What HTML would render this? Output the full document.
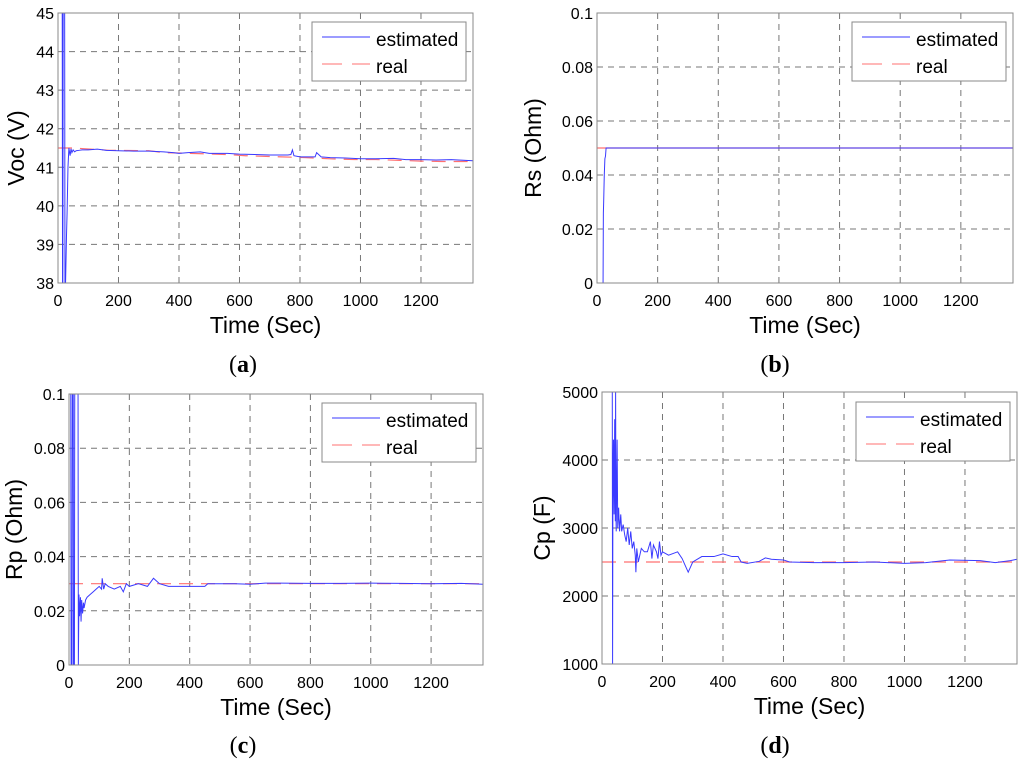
<!DOCTYPE html>
<html><head><meta charset="utf-8">
<style>
body{margin:0;background:#fff;}
svg{display:block;font-family:"Liberation Sans",sans-serif;}
</style></head>
<body>
<svg id="fig" width="1024" height="764" viewBox="0 0 1024 764"></svg>
<script>
// ---- Panel (a) Voc ----
const aEstT=[0,14,15,16,17,18,22,23,24,25,28,30,33,36,40,43,46,50,55,60,70,80,100,130,160,200,250,300,350,380,400,430,470,500,560,600,650,700,760,770,775,780,800,850,855,870,900,950,1000,1050,1110,1150,1200,1250,1300,1372];
const aEstV=[45,45,38,38,45,45,45,38,38,38,39.2,39.8,41.0,41.5,41.3,41.48,41.38,41.45,41.4,41.43,41.44,41.45,41.45,41.47,41.44,41.43,41.42,41.42,41.4,41.38,41.36,41.38,41.4,41.36,41.36,41.34,41.33,41.32,41.32,41.33,41.45,41.3,41.27,41.27,41.38,41.27,41.25,41.24,41.22,41.22,41.23,41.2,41.2,41.19,41.2,41.17];
const aRealT=[0,50,170,300,350,400,480,560,620,700,780,820,900,980,1050,1130,1200,1270,1372];
const aRealV=[41.5,41.5,41.44,41.43,41.38,41.37,41.35,41.33,41.3,41.28,41.26,41.25,41.22,41.2,41.2,41.18,41.16,41.15,41.15];
const aYTicks=[38,39,40,41,42,43,44,45];
// ---- Panel (b) Rs ----
const bEstT=[0,20,21,22,24,26,28,30,35,1372];
const bEstV=[0,0,0.026,0.03,0.04,0.046,0.047,0.05,0.05,0.05];
const bRealT=[0,1372];
const bRealV=[0.05,0.05];
const bYTicks=[0,0.02,0.04,0.06,0.08,0.1];
// ---- Panel (c) Rp ----
const cEstT=[0,6,7,10,11,14,15,18,19,30,31,33,35,38,40,42,45,48,50,55,60,70,80,90,100,108,110,115,120,130,150,170,180,190,200,230,260,280,290,300,330,360,400,450,460,550,600,650,700,800,900,1000,1100,1200,1300,1372];
const cEstV=[0.1,0.1,0,0,0.1,0.1,0,0,0.1,0.1,0,0.026,0.018,0.025,0.016,0.024,0.019,0.023,0.021,0.024,0.025,0.026,0.027,0.028,0.029,0.028,0.032,0.028,0.03,0.029,0.028,0.029,0.027,0.03,0.029,0.03,0.029,0.032,0.031,0.03,0.029,0.029,0.029,0.029,0.03,0.03,0.0298,0.0302,0.0302,0.0301,0.0301,0.0302,0.0301,0.03,0.0301,0.0298];
const cRealT=[0,1372];
const cRealV=[0.03,0.03];
const cYTicks=[0,0.02,0.04,0.06,0.08,0.1];
// ---- Panel (d) Cp ----
const dEstT=[0,34,35,36,38,40,42,44,45,46,47,50,52,55,58,62,65,70,75,80,85,90,95,100,105,110,112,115,120,130,140,150,160,165,170,180,185,190,195,200,220,250,265,275,285,300,330,370,400,430,450,460,480,520,540,560,600,620,700,800,900,1000,1070,1150,1250,1300,1350,1372];
const dEstV=[5000,5000,1000,3400,4300,3200,4600,3100,5000,3300,2950,4300,3000,3300,2950,3200,2950,3050,2900,2800,3000,2750,2950,2700,2800,2600,2350,2700,2500,2700,2650,2650,2800,2550,2750,2650,2550,2800,2600,2650,2600,2650,2550,2450,2350,2500,2580,2580,2620,2580,2580,2500,2480,2510,2560,2540,2530,2500,2490,2490,2500,2480,2490,2530,2520,2490,2520,2540];
const dRealT=[0,1372];
const dRealV=[2500,2500];
const dYTicks=[1000,2000,3000,4000,5000];
const xTicks=[0,200,400,600,800,1000,1200];
const XMAX=1372;

const NS="http://www.w3.org/2000/svg";
const svg=document.getElementById('fig');
function mk(tag,attrs,parent){const e=document.createElementNS(NS,tag);for(const k in attrs)e.setAttribute(k,attrs[k]);(parent||svg).appendChild(e);return e;}

function panel(p){
  const g=mk('g',{});
  
  
  const X=t=>p.l+(t/XMAX)*(p.r-p.l);
  const Y=v=>p.b-(v-p.y0)/(p.y1-p.y0)*(p.b-p.t);
  xTicks.forEach(t=>{ if(t>0){const ln=mk('line',{x1:X(t),x2:X(t),y1:p.t,y2:p.b,stroke:'#777','stroke-width':1,'stroke-dasharray':'6,5'},g);
    }
    const tx=mk('text',{x:X(t),y:p.b+23,'font-size':16,'text-anchor':'middle',fill:'#000'},g);tx.textContent=t;
    });
  p.yt.forEach((v,i)=>{ if(i>0&&i<p.yt.length-1){const ln=mk('line',{x1:p.l,x2:p.r,y1:Y(v),y2:Y(v),stroke:'#777','stroke-width':1,'stroke-dasharray':'6,5'},g);
    }
    const tx=mk('text',{x:p.l-4,y:Y(v)+6,'font-size':16,'text-anchor':'end',fill:'#000'},g);tx.textContent=(p.fmt?p.fmt(v):v);
    });
  const cp=mk('clipPath',{id:'cp'+p.id},g);mk('rect',{x:p.l,y:p.t,width:p.r-p.l,height:p.b-p.t},cp);
  const real=mk('polyline',{points:p.rt.map((t,i)=>X(t)+','+Y(p.rv[i])).join(' '),fill:'none',stroke:'#ff7070','stroke-width':1.2,'stroke-dasharray':p.id==='b'?'none':'14,8','clip-path':'url(#cp'+p.id+')'},g);
  
  const est=mk('polyline',{points:p.et.map((t,i)=>X(t)+','+Y(p.ev[i])).join(' '),fill:'none',stroke:'#3a3aff','stroke-width':1,'clip-path':'url(#cp'+p.id+')'},g);
  
  const fr=mk('rect',{x:p.l,y:p.t,width:p.r-p.l,height:p.b-p.t,fill:'none',stroke:'#888','stroke-width':1},g);
  
  const lg=mk('g',{},g);
  mk('rect',{x:p.lx,y:p.ly,width:154,height:59,fill:'#fff',stroke:'#888','stroke-width':1},lg);
  mk('line',{x1:p.lx+10,x2:p.lx+58,y1:p.ly+15,y2:p.ly+15,stroke:'#3a3aff','stroke-width':1},lg);
  mk('line',{x1:p.lx+10,x2:p.lx+58,y1:p.ly+42,y2:p.ly+42,stroke:'#ff7070','stroke-width':1,'stroke-dasharray':'20,10'},lg);
  const l1=mk('text',{x:p.lx+64,y:p.ly+24,'font-size':19},lg);l1.textContent='estimated';
  
  const l2=mk('text',{x:p.lx+64,y:p.ly+51,'font-size':19},lg);l2.textContent='real';
  
  const xt=mk('text',{x:(p.l+p.r)/2,y:p.b+50,'font-size':23,'text-anchor':'middle'},g);xt.textContent='Time (Sec)';
  
  const yt=mk('text',{x:p.ylx,y:(p.t+p.b)/2,'font-size':23,'text-anchor':'middle',transform:'rotate(-90 '+p.ylx+' '+(p.t+p.b)/2+')'},g);yt.textContent=p.ylab;
  
  const cap=mk('text',{x:p.cx,y:p.cy,'font-size':24,'font-family':'Liberation Serif','text-anchor':'middle'},g);
  cap.innerHTML='(<tspan font-weight="bold">'+p.id+'</tspan>)';
  
}
const f2=v=>v===0?'0':(v===0.1?'0.1':v.toFixed(2));
panel({id:'a',l:58,r:473,t:13,b:283,y0:38,y1:45,yt:aYTicks,et:aEstT,ev:aEstV,rt:aRealT,rv:aRealV,lx:312,ly:22,ylab:'Voc (V)',ylx:24,cx:243,cy:372});
panel({id:'b',l:597,r:1013,t:13,b:283,y0:0,y1:0.1,yt:bYTicks,fmt:f2,et:bEstT,ev:bEstV,rt:bRealT,rv:bRealV,lx:852,ly:22,ylab:'Rs (Ohm)',ylx:541,cx:775,cy:372});
panel({id:'c',l:69,r:483,t:394,b:665,y0:0,y1:0.1,yt:cYTicks,fmt:f2,et:cEstT,ev:cEstV,rt:cRealT,rv:cRealV,lx:322,ly:403,ylab:'Rp (Ohm)',ylx:22,cx:243,cy:753});
panel({id:'d',l:602,r:1017,t:392,b:664,y0:1000,y1:5000,yt:dYTicks,et:dEstT,ev:dEstV,rt:dRealT,rv:dRealV,lx:856,ly:402,ylab:'Cp (F)',ylx:550,cx:775,cy:753});
</script>
</body></html>
